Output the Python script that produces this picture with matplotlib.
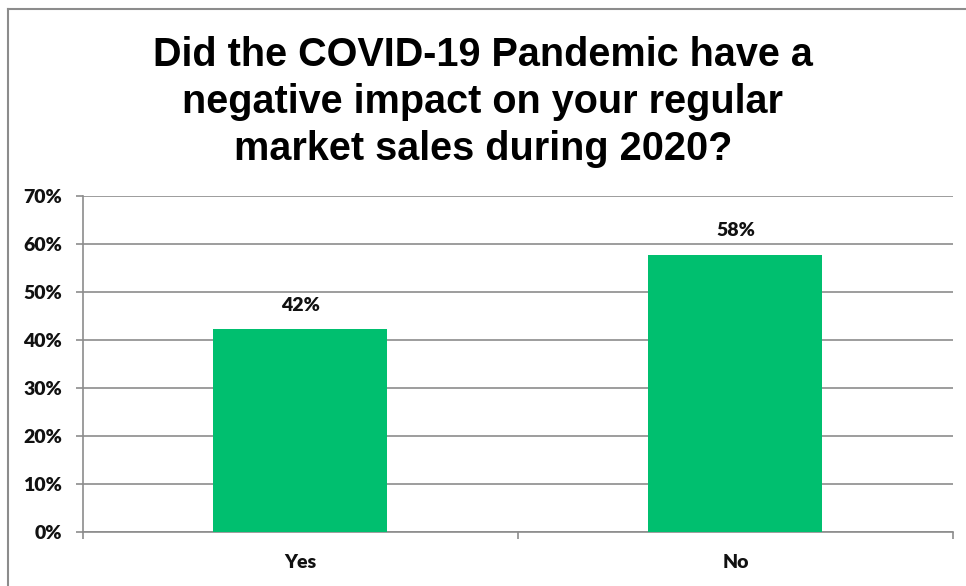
import matplotlib
matplotlib.use("Agg")
import matplotlib.pyplot as plt
from matplotlib.lines import Line2D
from matplotlib.ticker import PercentFormatter

# survey answers
answers = ["Yes", "No"]
shares = [0.422, 0.578]
y_ticks = [0, 0.1, 0.2, 0.3, 0.4, 0.5, 0.6, 0.7]

title = "Did the COVID-19 Pandemic have a\nnegative impact on your regular\nmarket sales during 2020?"

green = "#00bf6f"
grey = "#8c8c8c"
label_font = dict(family="Lato", fontweight=800, fontsize=14, color="#111111")

fig = plt.figure(figsize=(9.66, 5.86), dpi=100)
ax = fig.add_axes([0.0859, 0.0922, 0.9006, 0.5733])

x = range(len(answers))
bars = ax.bar(x, shares, width=0.4, color=green, zorder=3)

# value labels above the bars
for b, v in zip(bars, shares):
    ax.text(b.get_x() + b.get_width() / 2, v + 0.05, f"{v:.0%}",
            ha="center", va="center", **label_font)

ax.set_xlim(-0.5, 1.5)
ax.set_ylim(0, 0.7)
ax.set_yticks(y_ticks)
ax.yaxis.set_major_formatter(PercentFormatter(1.0, decimals=0))
ax.grid(axis="y", color=grey, linewidth=1.2, zorder=0)

ax.set_xticks(list(x))
ax.set_xticklabels(answers)
ax.set_xticks([-0.5, 0.5, 1.5], minor=True)
ax.tick_params(axis="x", which="major", length=0, pad=16)
ax.tick_params(axis="x", which="minor", length=5, width=1.2, color=grey)
ax.tick_params(axis="y", length=5, width=1.2, color=grey, pad=10)

for lab in ax.get_xticklabels() + ax.get_yticklabels():
    lab.set_family(label_font["family"])
    lab.set_fontweight(label_font["fontweight"])
    lab.set_fontsize(label_font["fontsize"])
    lab.set_color(label_font["color"])

for s in ["top", "right"]:
    ax.spines[s].set_visible(False)
for s in ["left", "bottom"]:
    ax.spines[s].set_color(grey)
    ax.spines[s].set_linewidth(1.2)

fig.text(0.5, 0.826, title, ha="center", va="center", fontsize=28.5,
         fontweight="bold", family="Liberation Sans", color="black",
         linespacing=1.3)

# chart frame (top and left edges)
fig.add_artist(Line2D([0.0078, 1.0], [0.9838, 0.9838], color=grey, linewidth=1.5))
fig.add_artist(Line2D([0.0078, 0.0078], [0.0, 0.9838], color=grey, linewidth=1.5))

fig.savefig("out.png", dpi=100, facecolor="white")
